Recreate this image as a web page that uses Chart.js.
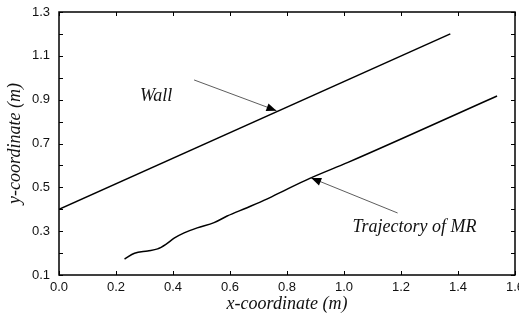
<!DOCTYPE html>
<html>
<head>
<meta charset="utf-8">
<script src="https://cdn.jsdelivr.net/npm/chart.js@4/dist/chart.umd.min.js"></script>
<style>
  html, body { margin: 0; padding: 0; background: #fff; }
  #wrap { width: 519px; height: 315px; }
</style>
</head>
<body>
<div id="wrap"><canvas id="grafico"></canvas></div>
<script>
// dados
const wallX = [0.0, 1.373];
const wallY = [0.40, 1.20];

const trajX = [0.230, 0.265, 0.311, 0.346, 0.375, 0.404, 0.439, 0.485, 0.544, 0.590, 0.660, 0.729, 0.799, 0.880, 1.014, 1.537];
const trajY = [0.173, 0.199, 0.210, 0.219, 0.240, 0.268, 0.292, 0.315, 0.339, 0.369, 0.407, 0.446, 0.491, 0.541, 0.614, 0.917];

const xTicks = [0.0, 0.2, 0.4, 0.6, 0.8, 1.0, 1.2, 1.4, 1.6];
const yTicks = [0.1, 0.3, 0.5, 0.7, 0.9, 1.1, 1.3];

// anotações (coordenadas em dados)
const notas = [
    { texto: "Wall", x: 0.341, y: 0.914, de: [0.474, 0.990], ate: [0.763, 0.850] },
    { texto: "Trajectory of MR", x: 1.247, y: 0.319, de: [1.188, 0.383], ate: [0.885, 0.543] }
];

const pontos = (xs, ys) => xs.map((x, i) => ({ x: x, y: ys[i] }));

const fonteTitulo = { family: "'Liberation Serif', 'Times New Roman', serif", size: 18, style: "italic" };
const fonteTicks = { family: "'Liberation Sans', Arial, sans-serif", size: 13 };

// desenha moldura, ticks internos e setas
const extras = {
    id: "extras",
    afterDraw(chart) {
        const ctx = chart.ctx;
        const a = chart.chartArea;
        const sx = chart.scales.x, sy = chart.scales.y;
        ctx.save();
        ctx.strokeStyle = "#000";
        ctx.lineWidth = 1.5;
        ctx.strokeRect(a.left, a.top, a.right - a.left, a.bottom - a.top);

        ctx.lineWidth = 1;
        for (let v = 0.1; v <= 1.3001; v += 0.1) {
            const py = Math.round(sy.getPixelForValue(v)) + 0.5;
            ctx.beginPath();
            ctx.moveTo(a.right, py); ctx.lineTo(a.right - 4, py);
            ctx.moveTo(a.left, py); ctx.lineTo(a.left + 4, py);
            ctx.stroke();
        }
        xTicks.forEach(v => {
            const px = Math.round(sx.getPixelForValue(v)) + 0.5;
            ctx.beginPath();
            ctx.moveTo(px, a.top); ctx.lineTo(px, a.top + 4);
            ctx.moveTo(px, a.bottom); ctx.lineTo(px, a.bottom - 4);
            ctx.stroke();
        });

        ctx.font = "italic 18px 'Liberation Serif', 'Times New Roman', serif";
        ctx.textAlign = "center";
        ctx.textBaseline = "middle";
        notas.forEach(n => {
            ctx.fillStyle = "#111";
            ctx.fillText(n.texto, sx.getPixelForValue(n.x), sy.getPixelForValue(n.y));
            const x1 = sx.getPixelForValue(n.de[0]), y1 = sy.getPixelForValue(n.de[1]);
            const x2 = sx.getPixelForValue(n.ate[0]), y2 = sy.getPixelForValue(n.ate[1]);
            ctx.strokeStyle = "#333";
            ctx.lineWidth = 0.8;
            ctx.beginPath();
            ctx.moveTo(x1, y1); ctx.lineTo(x2, y2);
            ctx.stroke();
            const ang = Math.atan2(y2 - y1, x2 - x1);
            const L = 10, W = 4;
            ctx.fillStyle = "#000";
            ctx.beginPath();
            ctx.moveTo(x2, y2);
            ctx.lineTo(x2 - L * Math.cos(ang) + W * Math.sin(ang), y2 - L * Math.sin(ang) - W * Math.cos(ang));
            ctx.lineTo(x2 - L * Math.cos(ang) - W * Math.sin(ang), y2 - L * Math.sin(ang) + W * Math.cos(ang));
            ctx.closePath();
            ctx.fill();
        });
        ctx.restore();
    }
};

new Chart(document.getElementById("grafico"), {
    type: "scatter",
    data: {
        datasets: [
            { label: "Wall", data: pontos(wallX, wallY), showLine: true, borderColor: "#000", borderWidth: 1.5, pointRadius: 0, tension: 0 },
            { label: "Trajectory of MR", data: pontos(trajX, trajY), showLine: true, borderColor: "#000", borderWidth: 1.5, pointRadius: 0, cubicInterpolationMode: "monotone" }
        ]
    },
    options: {
        responsive: true,
        maintainAspectRatio: false,
        animation: false,
        layout: { padding: { left: 0, right: 4, top: 12, bottom: 0 } },
        plugins: { legend: { display: false }, tooltip: { enabled: false } },
        scales: {
            x: {
                type: "linear",
                min: 0, max: 1.6,
                afterBuildTicks: s => { s.ticks = xTicks.map(v => ({ value: v })); },
                afterFit: s => { s.height = 40; s.paddingRight = 0; s.paddingLeft = 0; },
                ticks: { color: "#111", font: fonteTicks, padding: 5, maxRotation: 0, callback: v => v.toFixed(1) },
                grid: { display: false, drawTicks: false },
                border: { display: false },
                title: { display: true, text: "x-coordinate (m)", color: "#111", font: fonteTitulo, padding: { top: 0, bottom: 0 } }
            },
            y: {
                type: "linear",
                min: 0.1, max: 1.3,
                afterBuildTicks: s => { s.ticks = yTicks.map(v => ({ value: v })); },
                afterFit: s => { s.width = 59; s.paddingTop = 0; s.paddingBottom = 0; },
                ticks: { color: "#111", font: fonteTicks, padding: 9, callback: v => v.toFixed(1) },
                grid: { display: false, drawTicks: false },
                border: { display: false },
                title: { display: true, text: "y-coordinate (m)", color: "#111", font: fonteTitulo, padding: { top: 4, bottom: 0 } }
            }
        }
    },
    plugins: [extras]
});
</script>
</body>
</html>
